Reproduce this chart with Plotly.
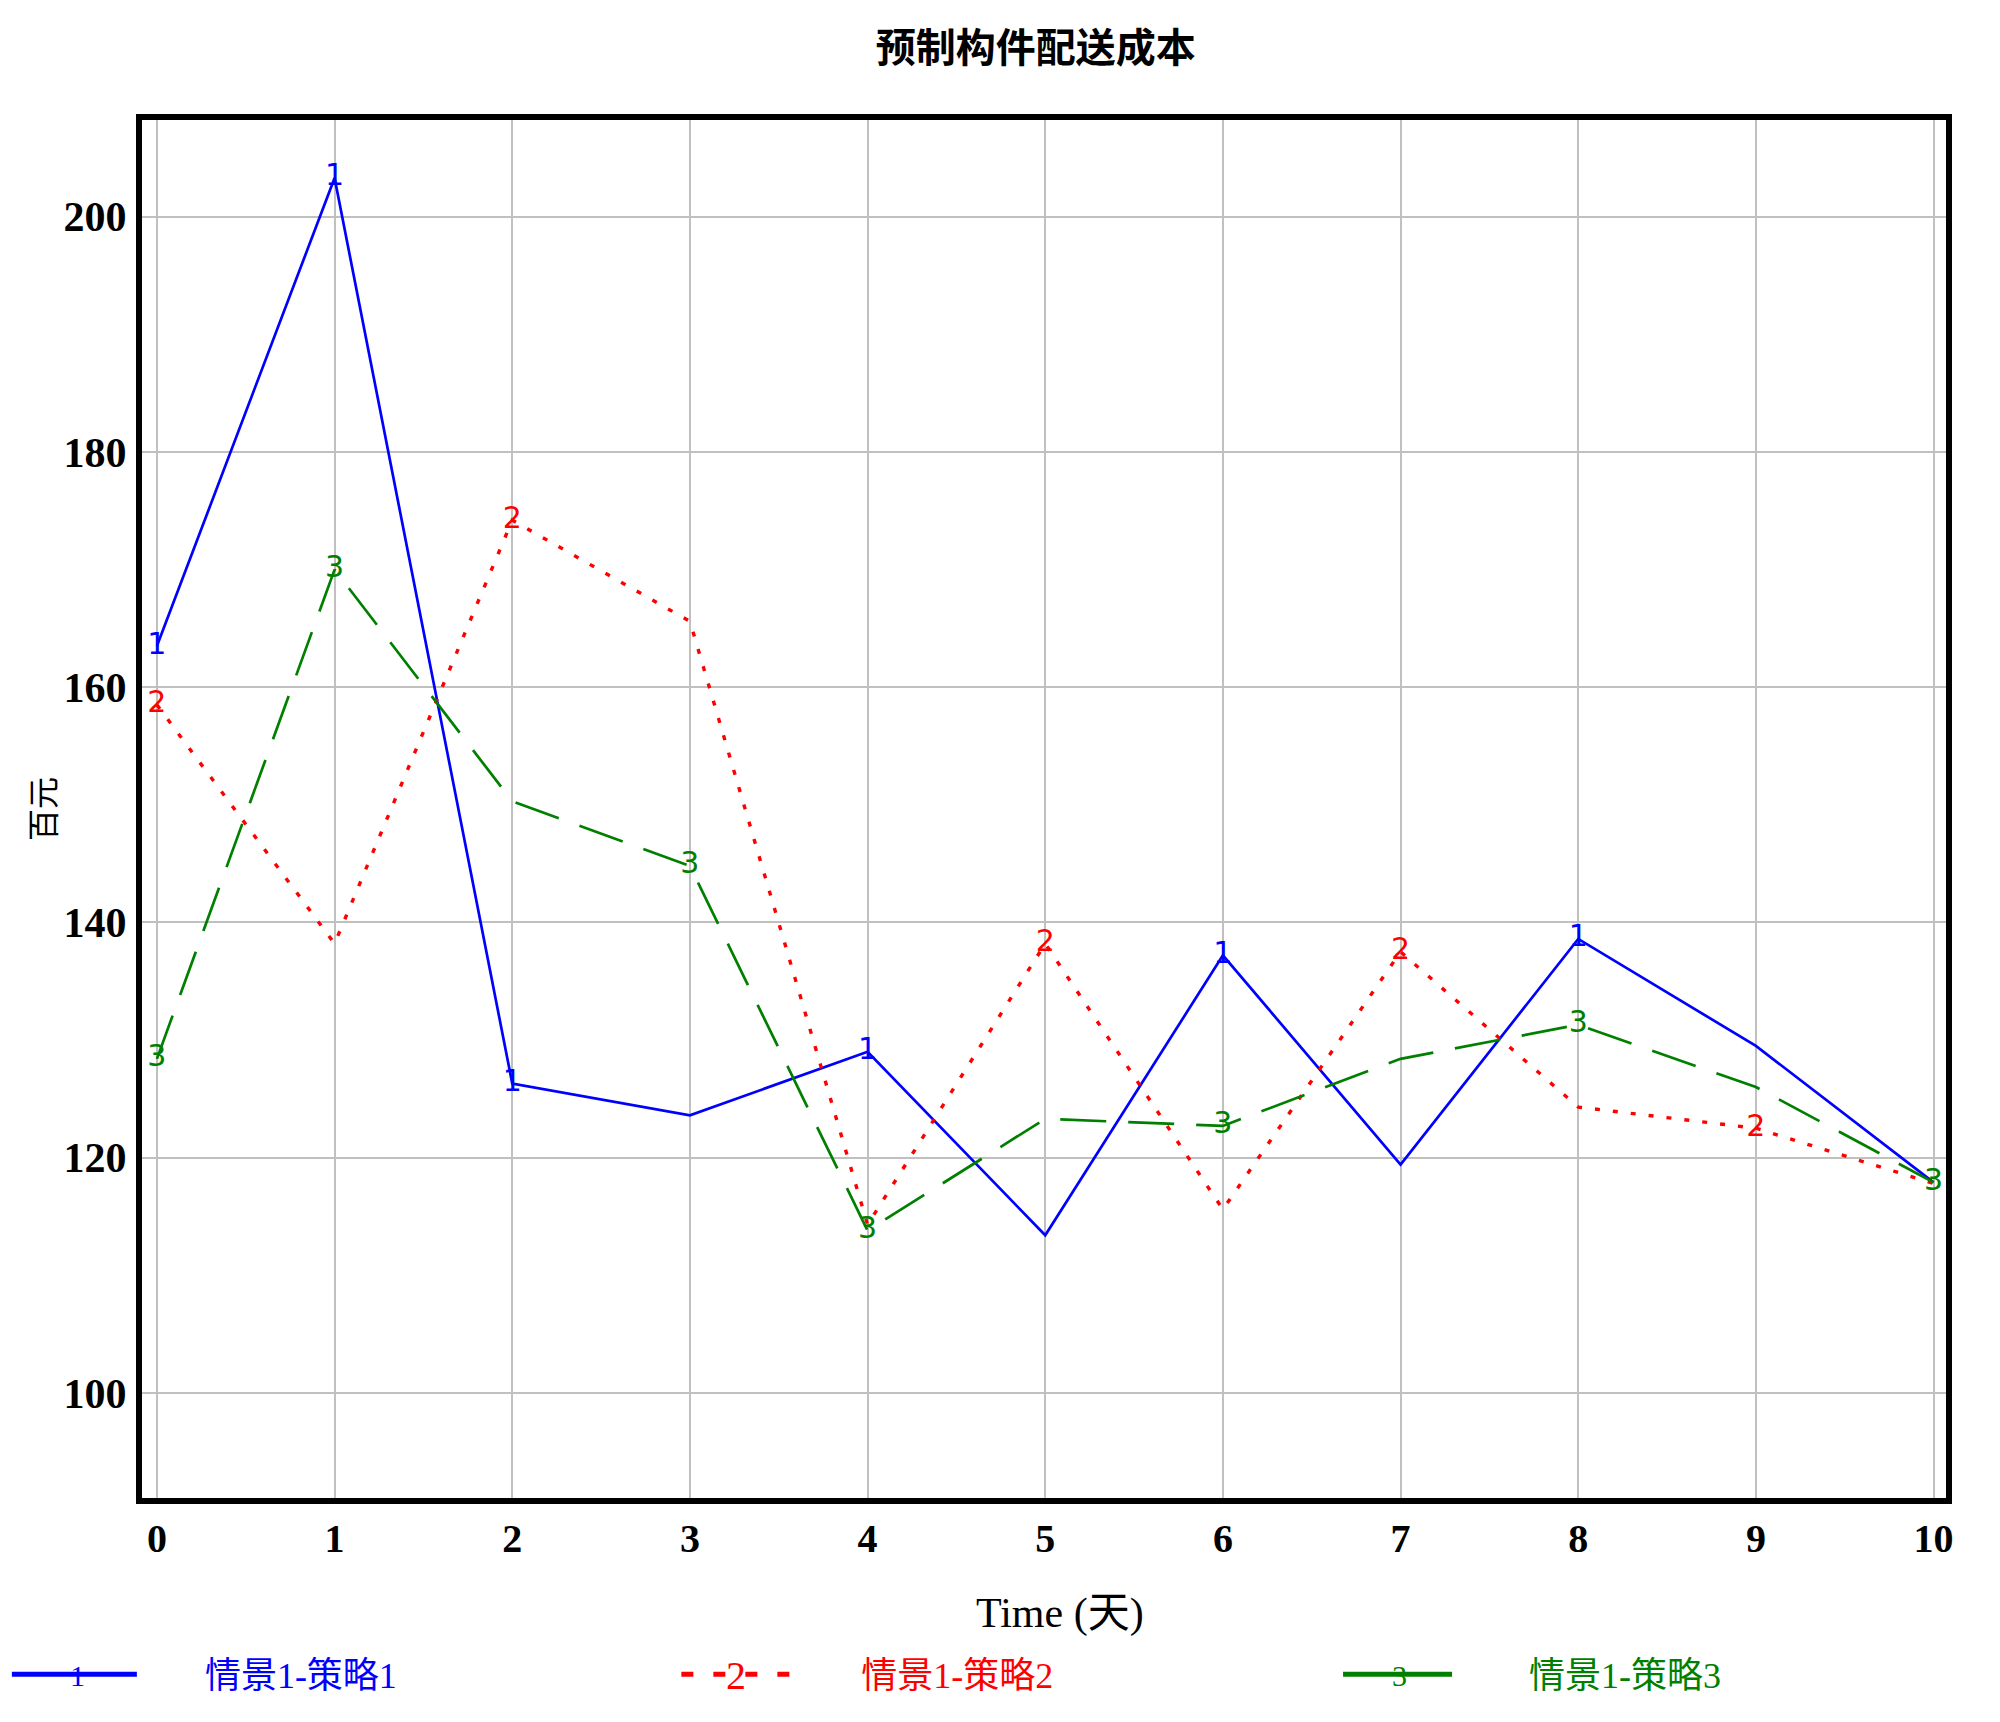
import plotly.graph_objects as go

# time axis (days)
days = [0, 1, 2, 3, 4, 5, 6, 7, 8, 9, 10]

# 情景1 strategies, 百元
strategy1 = [163.5, 203.3, 126.3, 123.6, 129.0, 113.4, 137.2, 119.4, 138.6, 129.5, 117.9]
strategy2 = [158.5, 138.2, 174.2, 165.6, 114.3, 138.2, 115.6, 137.5, 124.3, 122.5, 117.8]
strategy3 = [128.4, 170.0, 150.3, 144.8, 113.8, 123.3, 122.7, 128.4, 131.3, 126.0, 117.9]

# the little line ids that sit on the curves
labels1 = ["1", "1", "1", "", "1", "", "1", "", "1", "", ""]
labels2 = ["2", "", "2", "", "", "2", "", "2", "", "2", ""]
labels3 = ["3", "3", "", "3", "3", "", "3", "", "3", "", "3"]

names = ["情景1-策略1", "情景1-策略2", "情景1-策略3"]
ids = ["1", "2", "3"]

y_ticks = [100, 120, 140, 160, 180, 200]
x_ticks = days

colors = ["#0000FF", "#FF0000", "#007F00"]
dashes = ["solid", "5px,13px", "46px,22px"]
widths = [2.7, 3.4, 2.7]
legend_dashes = ["solid", "12px,20px", "solid"]
series = [strategy1, strategy2, strategy3]
labels = [labels1, labels2, labels3]

fig = go.Figure()

for vals, c, d, w in zip(series, colors, dashes, widths):
    fig.add_trace(go.Scatter(x=days, y=vals, mode="lines",
                             line=dict(color=c, width=w, dash=d),
                             showlegend=False, hoverinfo="skip"))

for vals, c, lab in zip(series, colors, labels):
    fig.add_trace(go.Scatter(x=days, y=vals, mode="text", text=lab,
                             textposition="middle center",
                             textfont=dict(family="DejaVu Sans", size=30, color=c),
                             showlegend=False, hoverinfo="skip"))

# one legend per series so each can sit where the original puts it
legend_ids = ["legend", "legend2", "legend3"]
pads = [7, 6, 8]
for name, c, d, lg, p in zip(names, colors, legend_dashes, legend_ids, pads):
    fig.add_trace(go.Scatter(x=[None], y=[None], mode="lines", name="\u00a0" * p + name,
                             legend=lg, line=dict(color=c, width=5, dash=d)))

# numbers drawn on the legend samples
num_x = [-0.036, 0.329, 0.697]
num_size = [30, 40, 30]
for n, c, xx, s in zip(ids, colors, num_x, num_size):
    fig.add_annotation(xref="paper", yref="paper", x=xx, y=-0.129,
                       xanchor="center", yanchor="middle",
                       text=n, showarrow=False,
                       font=dict(family="Liberation Serif", size=s, color=c))

# x axis title sits a little right of the plot centre in the original
fig.add_annotation(xref="paper", yref="paper", x=0.509, y=-0.084,
                   xanchor="center", yanchor="middle", text="Time (天)", showarrow=False,
                   font=dict(family="Liberation Serif, Noto Sans CJK SC", size=42, color="black"))

legend_x = [-0.0749, 0.2962, 0.663]
legend_w = [125, 121, 109]
legend_layout = {}
for lg, c, xx, w in zip(legend_ids, colors, legend_x, legend_w):
    legend_layout[lg] = dict(orientation="h", x=xx, xanchor="left", y=-0.128, yanchor="middle",
                             itemwidth=w, bgcolor="rgba(0,0,0,0)",
                             font=dict(family="Liberation Serif, Noto Sans CJK SC", size=36, color=c))

# page body keeps its default 8px margin, so the figure is 8px smaller
fig.update_layout(
    width=1992, height=1714,
    template=None,
    paper_bgcolor="white", plot_bgcolor="white",
    margin=dict(l=134, r=54, t=112, b=224, autoexpand=False),
    title=dict(text="预制构件配送成本", x=0.516, xanchor="center", y=0.9769, yanchor="middle",
               font=dict(family="Noto Sans CJK SC", size=40, color="black", weight="bold")),
    showlegend=True,
    **legend_layout,
)

fig.update_xaxes(range=[-0.084, 10.07], tickvals=x_ticks, showgrid=True, gridcolor="#C0C0C0",
                 gridwidth=2, zeroline=False, showline=True, mirror=True, linecolor="black",
                 linewidth=6, ticks="", ticklabelstandoff=0, automargin=False,
                 tickfont=dict(family="Liberation Serif", size=40, color="black", weight="bold"))

fig.update_yaxes(range=[91.06, 208.23], tickvals=y_ticks, showgrid=True, gridcolor="#C0C0C0",
                 gridwidth=2, zeroline=False, showline=True, mirror=True, linecolor="black",
                 linewidth=6, ticks="", ticklabelstandoff=1, automargin=False,
                 tickfont=dict(family="Liberation Serif", size=42, color="black", weight="bold"),
                 title=dict(text="百元", standoff=0,
                            font=dict(family="Noto Sans CJK SC", size=32, color="black")))

fig.write_html("out.html")
